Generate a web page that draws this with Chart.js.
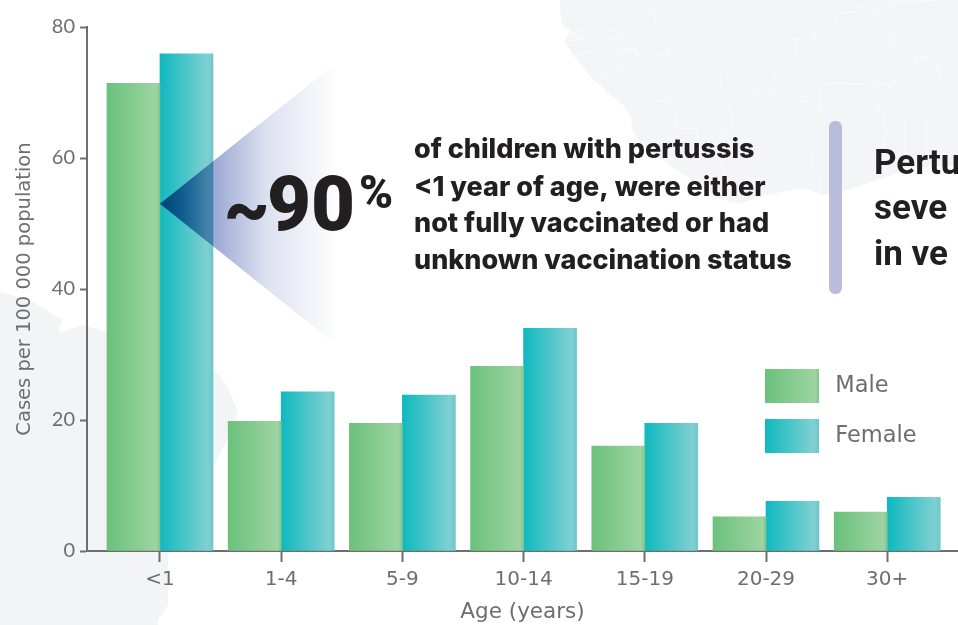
<!DOCTYPE html>
<html>
<head>
<meta charset="utf-8">
<script src="https://cdn.jsdelivr.net/npm/chart.js@4/dist/chart.umd.min.js"></script>
<style>
  html, body { margin: 0; padding: 0; background: #fff; overflow: hidden; }
  #wrap { position: relative; width: 958px; height: 625px; }
  #map, #chart { position: absolute; left: 0; top: 0; }
</style>
</head>
<body>
<div id="wrap">
  <svg id="map" width="958" height="625"></svg>
  <canvas id="chart" width="958" height="625"></canvas>
</div>
<script>
const ageGroups = ['<1', '1-4', '5-9', '10-14', '15-19', '20-29', '30+']
const maleCases = [71.4, 19.8, 19.5, 28.2, 16, 5.2, 5.95]
const femaleCases = [75.9, 24.3, 23.8, 34, 19.5, 7.6, 8.2]
const yTicks = [0, 20, 40, 60, 80]

const calloutTilde = '~'
const calloutNumber = '90'
const calloutPercent = '%'
const calloutLines = [
  'of children with pertussis',
  '<1 year of age, were either',
  'not fully vaccinated or had',
  'unknown vaccination status'
]
const sideLines = ['Pertu', 'seve', 'in ve']

const GREY = '#6d6e71'
const INK = '#231f20'
const BAR_W = 53
const LEGEND_BOX = 54
const LEGEND_GAP = 5

// faint map behind the chart, only decoration
const westAfrica = [[560,0],[560,10],[563,27],[570,30],[565,42],[573,55],[593,80],[598,83],[610,95],[623,105],[631,118],[632,128],[640,143],[667,163],[687,177],[717,198],[737,204],[767,195],[803,188],[823,195],[842,192],[893,175],[905,168],[958,165],[958,0]]
const southLand = [[0,292],[30,300],[62,320],[58,333],[83,325],[107,332],[213,373],[218,373],[228,388],[238,412],[228,438],[213,467],[168,550],[168,605],[158,620],[158,625],[0,625]]
const borders = [
  [[290,0],[310,30],[350,35],[345,65],[352,72],[340,100],[350,118],[385,135],[385,160],[390,180],[425,200],[460,180],[490,165],[525,215],[540,220],[545,270],[570,295],[590,270],[620,295],[630,268],[655,270],[660,285],[700,270],[705,205],[745,190],[770,150],[762,118],[790,112],[810,130],[825,118],[815,100],[845,95],[890,70],[895,38],[945,35],[960,18],[1010,30],[1060,18],[1070,5],[1190,0]],
  [[1010,30],[1020,65],[1055,110],[1075,115],[1055,130],[1095,150],[1120,155],[1130,195],[1150,170],[1165,175],[1195,215],[1195,165],[1225,135],[1254,105]],
  [[1195,215],[1208,265],[1190,320],[1158,352],[1158,470]],
  [[705,270],[705,285],[740,325],[765,325],[780,305],[810,305],[845,335],[838,265],[845,250],[975,252],[1000,247],[1045,255],[1075,240],[1110,220],[1130,195]],
  [[845,335],[845,400],[812,480],[840,540],[845,580]],
  [[1045,255],[1055,285],[1075,305],[1095,350],[1095,480]],
  [[1000,255],[1025,290],[1010,330],[1030,335],[1032,375],[1045,390],[1030,420],[1035,520]],
  [[95,170],[170,150],[290,150],[290,165],[320,170],[385,160]],
  [[75,105],[140,90],[190,85],[250,100],[225,118],[175,100],[130,115],[80,125]],
  [[175,250],[190,220],[250,195],[240,175],[255,150]],
  [[272,355],[300,335],[325,305],[385,298],[408,335],[410,385],[470,385],[480,460]],
  [[560,305],[572,335],[575,385],[540,395],[540,485],[590,612]]
]
const pts = list => list.map(p => p.join(',')).join(' ')
document.querySelector('#map').innerHTML =
  `<polygon points="${pts(westAfrica)}" fill="#f4f5f6"/>` +
  `<polygon points="${pts(southLand)}" fill="#f3f4f6"/>` +
  `<g transform="translate(540,0) scale(0.3333)" fill="none" stroke="#fdfdfd" stroke-width="2.5">` +
  borders.map(b => `<polyline points="${pts(b)}"/>`).join('') + '</g>'

const barGradient = (ctx, left, stops) => {
  const g = ctx.createLinearGradient(left, 0, left + BAR_W, 0)
  stops.forEach(s => g.addColorStop(s[0], s[1]))
  return g
}
const maleStops = [[0, '#6bc17c'], [0.93, '#9dd4a2'], [1, '#80c48e']]
const femaleStops = [[0, '#0eb9bf'], [0.9, '#80d0d2'], [1, '#6cc6cc']]

// legend swatch is a bit wider than what shows, Chart.js has no box-to-text gap option
const legendGradient = (ctx, left, stops) => {
  const full = LEGEND_BOX + LEGEND_GAP
  const g = ctx.createLinearGradient(left, 0, left + full, 0)
  stops.forEach(s => g.addColorStop(s[0] * LEGEND_BOX / full, s[1]))
  g.addColorStop(LEGEND_BOX / full, 'rgba(255,255,255,0)')
  g.addColorStop(1, 'rgba(255,255,255,0)')
  return g
}

const calloutPlugin = {
  id: 'callout',
  afterLayout(chart) {
    // the legend sits inside the plot, right of the 15-19 bars
    const legend = chart.legend
    legend.left = 765 - legend.options.labels.padding
    legend.right = 958
    legend.top = 369 - legend.options.labels.padding
    legend.bottom = 520
  },
  afterDatasetsDraw(chart) {
    const { ctx } = chart
    ctx.save()

    // wedge pointing at the <1 bar, it darkens the bars it crosses
    const apexX = chart.scales.x.getPixelForValue(0)
    const apexY = chart.scales.y.getPixelForValue(53)
    const endX = 338
    const spread = (endX - apexX) * 0.8
    const wedge = ctx.createLinearGradient(apexX, 0, endX, 0)
    wedge.addColorStop(0, '#00579f')
    wedge.addColorStop(0.3, '#9ba8d4')
    wedge.addColorStop(0.6, '#dde1f0')
    wedge.addColorStop(1, '#ffffff')
    ctx.globalCompositeOperation = 'multiply'
    ctx.fillStyle = wedge
    ctx.beginPath()
    ctx.moveTo(apexX, apexY)
    ctx.lineTo(endX, apexY - spread)
    ctx.lineTo(endX, apexY + spread)
    ctx.closePath()
    ctx.fill()
    ctx.globalCompositeOperation = 'source-over'

    // divider
    ctx.fillStyle = '#b9bcdb'
    ctx.beginPath()
    ctx.roundRect(829, 121, 13, 173, 6)
    ctx.fill()

    ctx.fillStyle = INK
    ctx.textBaseline = 'alphabetic'
    ctx.font = '900 72px Roboto'
    ctx.fillText(calloutTilde, 224, 233)
    ctx.font = '900 76px Roboto'
    ctx.fillText(calloutNumber, 267, 230)
    ctx.font = '900 46px Roboto'
    ctx.fillText(calloutPercent, 359, 208)

    ctx.font = '800 27px Inter'
    calloutLines.forEach((line, i) => {
      ctx.fillText(line, 414, [158, 196, 232, 269][i])
    })

    ctx.font = '700 35px Roboto'
    sideLines.forEach((line, i) => {
      ctx.fillText(line, 874, [174, 219, 265][i])
    })
    ctx.restore()
  }
}

new Chart(document.querySelector('#chart'), {
  type: 'bar',
  data: {
    labels: ageGroups,
    datasets: [
      {
        label: 'Male',
        data: maleCases.map((v, i) => ({ x: i, y: v })),
        backgroundColor: c => barGradient(c.chart.ctx, c.chart.scales.x.getPixelForValue(c.dataIndex) - BAR_W, maleStops)
      },
      {
        label: 'Female',
        data: femaleCases.map((v, i) => ({ x: i, y: v })),
        backgroundColor: c => barGradient(c.chart.ctx, c.chart.scales.x.getPixelForValue(c.dataIndex), femaleStops)
      }
    ]
  },
  plugins: [calloutPlugin],
  options: {
    responsive: false,
    animation: false,
    barThickness: BAR_W,
    layout: { padding: { top: 27 } },
    scales: {
      x: {
        type: 'linear',
        offset: false,
        min: -0.602,
        max: 6.584,
        afterFit: s => { s.height = 74 },
        afterBuildTicks: s => { s.ticks = ageGroups.map((g, i) => ({ value: i })) },
        grid: { offset: false, drawOnChartArea: false, color: GREY, tickLength: 11, tickWidth: 2 },
        border: { color: GREY, width: 2 },
        ticks: {
          color: GREY,
          font: { family: 'DejaVu Sans', size: 20 },
          autoSkip: false,
          maxRotation: 0,
          padding: 6,
          callback: v => ageGroups[v]
        },
        title: {
          display: true,
          text: 'Age (years)',
          color: GREY,
          font: { family: 'DejaVu Sans', size: 21.5 },
          padding: { top: 5, bottom: 0 }
        }
      },
      y: {
        min: 0,
        max: 80,
        afterFit: s => { s.width = 87 },
        afterBuildTicks: s => { s.ticks = yTicks.map(v => ({ value: v })) },
        grid: { drawOnChartArea: false, color: GREY, tickLength: 7, tickWidth: 2 },
        border: { color: GREY, width: 2 },
        ticks: {
          color: GREY,
          font: { family: 'Lato', size: 20 },
          padding: 5
        },
        title: {
          display: true,
          text: 'Cases per 100 000 population',
          color: GREY,
          font: { family: 'DejaVu Sans', size: 19.5 },
          padding: { top: 13, bottom: 0 }
        }
      }
    },
    plugins: {
      tooltip: { enabled: false },
      legend: {
        position: 'chartArea',
        align: 'start',
        labels: {
          boxWidth: LEGEND_BOX + LEGEND_GAP,
          boxHeight: 34,
          padding: 16,
          color: GREY,
          font: { family: 'DejaVu Sans', size: 22.5 },
          generateLabels: chart => chart.data.datasets.map((d, i) => ({
            text: d.label,
            datasetIndex: i,
            fontColor: GREY,
            lineWidth: 0,
            fillStyle: legendGradient(chart.ctx, 765, i === 0 ? maleStops : femaleStops)
          }))
        }
      }
    }
  }
})
</script>
</body>
</html>
